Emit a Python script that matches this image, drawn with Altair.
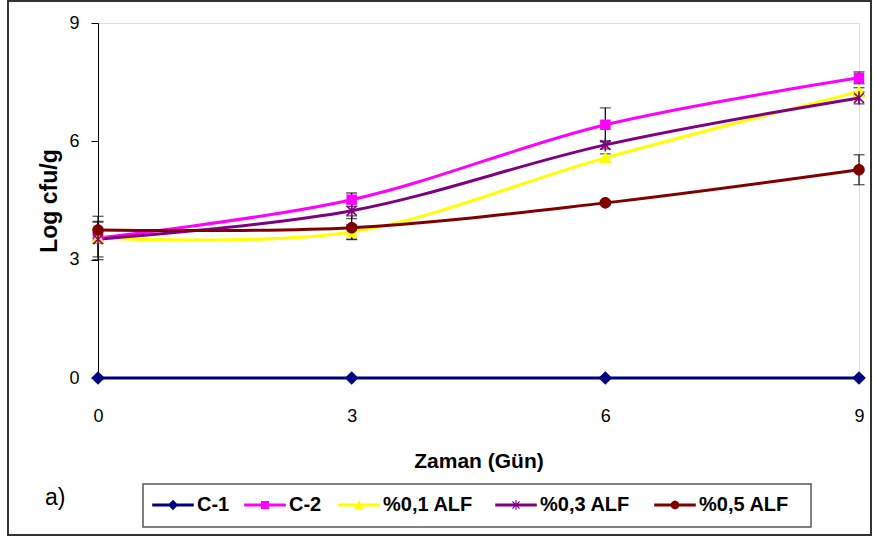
import altair as alt
import pandas as pd

# Sampling days
days = [0, 3, 6, 9]

# Series names and mean counts (Log cfu/g)
series_names = ["C-1", "C-2", "%0,1 ALF", "%0,3 ALF", "%0,5 ALF"]
c1_vals = [0.0, 0.0, 0.0, 0.0]
c2_vals = [3.55, 4.52, 6.42, 7.61]
alf01_vals = [3.55, 3.70, 5.58, 7.26]
alf03_vals = [3.52, 4.24, 5.91, 7.10]
alf05_vals = [3.75, 3.81, 4.44, 5.28]

# Standard deviations
c1_err = [0.0, 0.0, 0.0, 0.0]
c2_err = [0.55, 0.17, 0.43, 0.15]
alf01_err = [0.13, 0.18, 0.10, 0.10]
alf03_err = [0.45, 0.20, 0.10, 0.15]
alf05_err = [0.20, 0.30, 0.05, 0.38]

series_colors = ["#000080", "#FF00FF", "#FFFF00", "#800080", "#800000"]

# Marker shapes used on the data points
DIAMOND = "M0,-1.3L1.3,0L0,1.3L-1.3,0Z"
SQUARE = "M-1,-1L1,-1L1,1L-1,1Z"
TRIANGLE = "M0,-1.2L1.2,1L-1.2,1Z"
STAR = "M-0.9,-0.9L0.9,0.9M-0.9,0.9L0.9,-0.9M0,-1.2L0,1.2"
CIRCLE = "M-1.1,0A1.1,1.1,0,1,0,1.1,0A1.1,1.1,0,1,0,-1.1,0Z"
marker_shapes = [DIAMOND, SQUARE, TRIANGLE, STAR, CIRCLE]
marker_filled = [True, True, True, False, True]

# Legend keys are filled outlines only: a thin bar with the marker on top
BAR = "M-5.2,-0.35L5.2,-0.35L5.2,0.35L-5.2,0.35Z"
STAR_FILLED = (
    "M-0.15,-1.2L0.15,-1.2L0.15,1.2L-0.15,1.2Z"
    "M-0.794,-1.006L1.006,0.794L0.794,1.006L-1.006,-0.794Z"
    "M-1.006,0.794L0.794,-1.006L1.006,-0.794L-0.794,1.006Z"
)
DISC = ("M1.1,0L0.953,0.55L0.55,0.953L0,1.1L-0.55,0.953L-0.953,0.55L-1.1,0"
        "L-0.953,-0.55L-0.55,-0.953L0,-1.1L0.55,-0.953L0.953,-0.55Z")
legend_markers = [DIAMOND, SQUARE, TRIANGLE, STAR_FILLED, DISC]
legend_shapes = [BAR + s for s in legend_markers]

# Horizontal anchor of each legend entry inside the legend box
legend_entry_x = [65, 157, 251, 408, 567]

FONT = "Liberation Sans"

rows = []
for name, vals, errs in zip(
    series_names,
    [c1_vals, c2_vals, alf01_vals, alf03_vals, alf05_vals],
    [c1_err, c2_err, alf01_err, alf03_err, alf05_err],
):
    for d, v, e in zip(days, vals, errs):
        rows.append({"gun": d, "seri": name, "log": v, "lo": v - e, "hi": v + e, "err": e})
df = pd.DataFrame(rows)

x_enc = alt.X("gun:Q", scale=alt.Scale(domain=[0, 9], nice=False, zero=False),
              axis=alt.Axis(values=days, format="d", title="Zaman (Gün)", domain=False,
                            ticks=False, grid=False, labelPadding=29, labelFontSize=18,
                            labelFont=FONT, labelColor="#000", titleFont=FONT,
                            titleFontSize=21, titleFontWeight="bold", titlePadding=25,
                            titleColor="#000", labelFlush=False))
y_enc = alt.Y("log:Q", scale=alt.Scale(domain=[0, 9], nice=False),
              axis=alt.Axis(values=[0, 3, 6, 9], format="d", title="Log cfu/g", grid=False,
                            tickSize=7, tickColor="#000", domainColor="#000",
                            labelPadding=12, labelFontSize=18, labelFont=FONT,
                            labelColor="#000", titleFont=FONT, titleFontSize=23,
                            titleFontWeight="bold", titlePadding=7, titleColor="#000"))

color_scale = alt.Scale(domain=series_names, range=series_colors)

base = alt.Chart(df)

err_data = base.transform_filter("datum.err > 0")
err_rules = err_data.mark_rule(color="#111", strokeWidth=1.3).encode(
    x="gun:Q", y="lo:Q", y2="hi:Q")
err_top = err_data.mark_tick(color="#111", thickness=1.3, size=11, orient="horizontal").encode(
    x="gun:Q", y="hi:Q")
err_bot = err_data.mark_tick(color="#111", thickness=1.3, size=11, orient="horizontal").encode(
    x="gun:Q", y="lo:Q")

lines = base.mark_line(strokeWidth=3, interpolate="cardinal").encode(
    x=x_enc, y=y_enc,
    color=alt.Color("seri:N", scale=color_scale, legend=None),
    order=alt.Order("gun:Q"),
    detail="seri:N",
)

# One marker layer per series, each with its own symbol
point_layers = []
for name, shape, filled in zip(series_names, marker_shapes, marker_filled):
    if filled:
        mk = dict(shape=shape, filled=True, size=110, opacity=1)
    else:
        mk = dict(shape=shape, filled=False, size=120, strokeWidth=1.6, opacity=1)
    point_layers.append(
        base.transform_filter(alt.datum.seri == name).mark_point(**mk).encode(
            x="gun:Q", y="log:Q",
            color=alt.Color("seri:N", scale=color_scale, legend=None),
        )
    )

# Legend: one single-entry legend per series (layers hold no rows)
legend_layers = []
for name, col, key, lx in zip(series_names, series_colors, legend_shapes, legend_entry_x):
    legend_layers.append(
        base.transform_filter("datum.log < -1").mark_point(
            filled=True, color=col, stroke=col, strokeWidth=2.6, opacity=1).encode(
            x="gun:Q", y="log:Q",
            shape=alt.Shape("seri:N", scale=alt.Scale(domain=[name], range=[key]),
                            legend=alt.Legend(
                                title=None, orient="none", legendX=lx, legendY=472,
                                direction="horizontal", padding=0, labelFont=FONT,
                                labelFontSize=20, labelFontWeight="bold",
                                labelColor="#000", symbolSize=64,
                                symbolStrokeWidth=2.6, symbolFillColor=col,
                                symbolStrokeColor=col, symbolOpacity=1,
                                labelOffset=14, labelLimit=300)),
        )
    )

legend_box = alt.Chart(pd.DataFrame({"k": [0]})).mark_rect(
    fill="#fff", stroke="#555", strokeWidth=1.5).encode(
    x=alt.value(45), x2=alt.value(713), y=alt.value(461), y2=alt.value(504))

label_a = alt.Chart(pd.DataFrame({"t": ["a)"]})).mark_text(
    font=FONT, fontSize=23, align="left", baseline="middle", color="#000").encode(
    text="t:N", x=alt.value(-53), y=alt.value(475))

frame = alt.Chart(pd.DataFrame({"k": [0]})).mark_rect(
    fill=None, stroke="#333", strokeWidth=2).encode(
    x=alt.value(-90), x2=alt.value(773), y=alt.value(-22), y2=alt.value(512))

chart = alt.layer(
    frame, legend_box, err_rules, err_top, err_bot, lines, *point_layers,
    *legend_layers, label_a
).resolve_scale(shape="independent").properties(
    width=761, height=355,
    padding={"left": 98, "top": 23, "right": 15, "bottom": 161},
    autosize=alt.AutoSizeParams(type="none"),
).configure_view(stroke=None).configure(background="#fff")

chart.save("out.html", embed_options={"renderer": "svg", "actions": False})
